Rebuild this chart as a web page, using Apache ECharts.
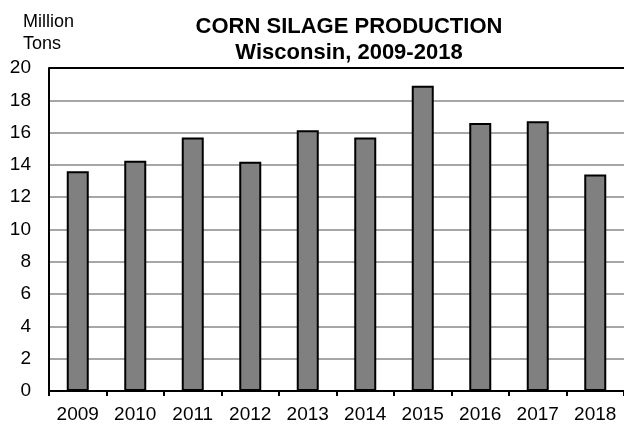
<!DOCTYPE html>
<html>
<head>
<meta charset="utf-8">
<title>Corn Silage Production</title>
<script src="https://cdn.jsdelivr.net/npm/echarts@6/dist/echarts.min.js"></script>
<style>
  html, body { margin: 0; padding: 0; background: #fff; }
  #chart { width: 624px; height: 426px; }
</style>
</head>
<body>
<div id="chart"></div>
<script>
// values (million tons)
const years = ['2009', '2010', '2011', '2012', '2013', '2014', '2015', '2016', '2017', '2018'];
const production = [13.6, 14.25, 15.7, 14.2, 16.15, 15.7, 18.9, 16.6, 16.7, 13.4];
const titleLines = ['CORN SILAGE PRODUCTION', 'Wisconsin, 2009-2018'];
const unitLines = ['Million', 'Tons'];

const font = '"Liberation Sans", Arial, sans-serif';
// gridline colours per tick: 0 and 20 are black, the rest grey
const splitColors = ['#000'];
for (let i = 1; i < 10; i++) splitColors.push('#a6a6a6');
splitColors.push('#000');

let myChart = echarts.init(document.getElementById('chart'), null, { renderer: 'canvas' });

const option = {
  backgroundColor: '#fff',
  animation: false,
  title: [
    {
      text: titleLines.join('\n'),
      left: 344,
      top: 9,
      textAlign: 'center',
      textStyle: {
        fontFamily: font,
        fontSize: 22,
        fontWeight: 'bold',
        color: '#000',
        lineHeight: 26
      }
    },
    {
      text: unitLines.join('\n'),
      left: 18,
      top: 6,
      textStyle: {
        fontFamily: font,
        fontSize: 18,
        fontWeight: 'normal',
        color: '#000',
        lineHeight: 22
      }
    }
  ],
  grid: {
    left: 49,
    top: 68,
    width: 580,
    bottom: 35,
    containLabel: false
  },
  xAxis: {
    type: 'category',
    data: years,
    axisLine: { lineStyle: { color: '#000', width: 2 } },
    axisTick: { show: true, length: 5, lineStyle: { color: '#000', width: 2 } },
    axisLabel: {
      color: '#000',
      fontFamily: font,
      fontSize: 19,
      margin: 14
    }
  },
  yAxis: {
    type: 'value',
    min: 0,
    max: 20,
    interval: 2,
    axisLine: { show: true, lineStyle: { color: '#000', width: 2 } },
    axisTick: { show: false },
    axisLabel: {
      color: '#000',
      fontFamily: font,
      fontSize: 19,
      margin: 18
    },
    splitLine: {
      show: true,
      lineStyle: { color: splitColors, width: 2 }
    }
  },
  series: [
    {
      name: 'Production',
      type: 'bar',
      data: production,
      barWidth: 22,
      itemStyle: {
        color: '#808080',
        borderColor: '#000',
        borderWidth: 2
      }
    }
  ]
};

myChart.setOption(option);
</script>
</body>
</html>
